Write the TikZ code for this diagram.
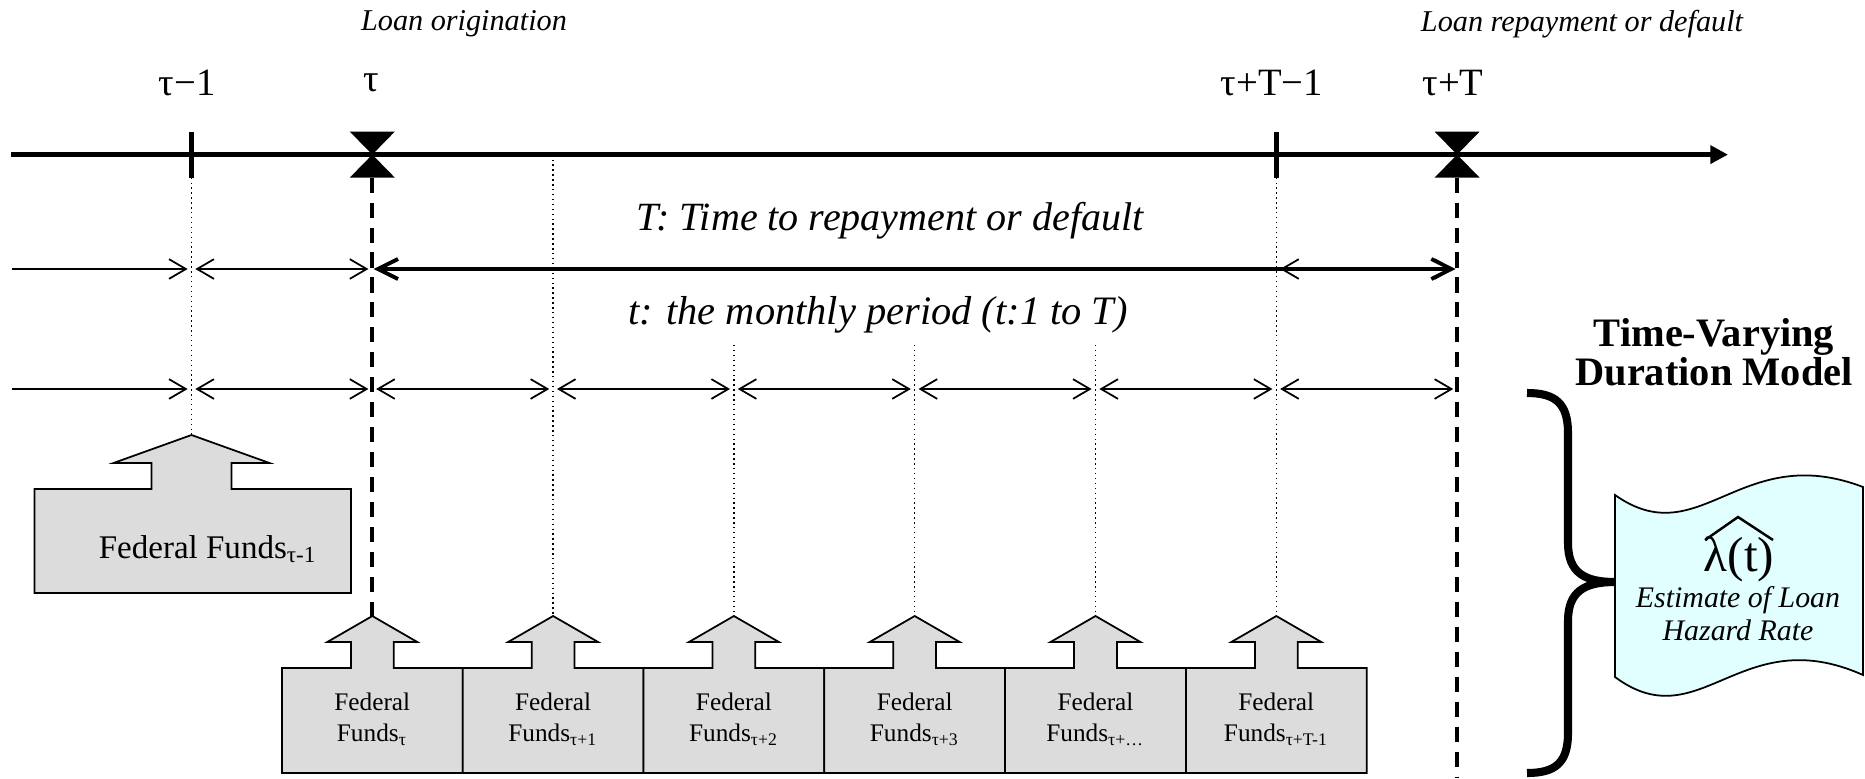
\documentclass[tikz,border=0pt]{standalone}
\usepackage{fontspec}
\setmainfont{Liberation Serif}
\usetikzlibrary{arrows.meta}
\definecolor{fundgray}{RGB}{220,220,220}
\definecolor{tapecyan}{RGB}{226,255,255}

\begin{document}
\begin{tikzpicture}[>={Straight Barb[length=4.8pt,width=5.6pt]},
  span/.style={line width=0.5pt,shorten <=1.1pt,shorten >=1.1pt},
  guide/.style={densely dotted,line width=0.4pt},
  marker/.style={dash pattern=on 4.3pt off 2.8pt,line width=1.1pt},
  fund/.style={draw,line width=0.5pt,fill=fundgray},
  ticklbl/.style={font=\fontsize{11}{13}\selectfont},
  note/.style={font=\itshape\fontsize{8.6}{10}\selectfont}]
  \useasboundingbox (0,0) rectangle (18.65,7.78);
  % time points on the axis and on the two rows of spans
  \foreach \i in {0,...,7}{
    \coordinate (t\i) at (1.915+1.808*\i,6.234);
    \coordinate (a\i) at (1.915+1.808*\i,5.09);
    \coordinate (b\i) at (1.915+1.808*\i,3.89);
  }
  \coordinate (axis-start) at (0.11,6.234);
  \coordinate (axis-end) at (17.28,6.234);
  \coordinate (a-start) at (0.12,5.09);
  \coordinate (b-start) at (0.12,3.89);
  \coordinate (floor) at (0,0);
  % timeline
  \draw[line width=1.5pt,-{Triangle[length=5pt,width=5pt]}] (axis-start)--(axis-end);
  \foreach \i in {0,6}
    \draw[line width=1.6pt] ([yshift=0.23cm]t\i)--([yshift=-0.23cm]t\i);
  \foreach \i in {1,7}
    \fill[shift={(t\i)}] (-0.225,0.23)--(0.225,0.23)--(-0.225,-0.23)--(0.225,-0.23)--cycle;
  \node[ticklbl] (lab0) at (1.87,6.95){τ−1};
  \node[ticklbl] (lab1) at (3.71,6.95){τ};
  \node[ticklbl] (lab6) at (12.72,6.95){τ+T−1};
  \node[ticklbl] (lab7) at (14.53,6.95){τ+T};
  \node[note] (origination) at (4.64,7.54){Loan origination};
  \node[note] (repayment) at (15.82,7.54){Loan repayment or default};
  % federal funds boxes
  \draw[fund] (0.345,1.85)--(3.51,1.85)--(3.51,2.89)--(2.315,2.89)--(2.315,3.15)--(2.695,3.15)
    --(1.915,3.43) coordinate (f0)--(1.135,3.15)--(1.515,3.15)--(1.515,2.89)--(0.345,2.89)--cycle;
  \node[font=\fontsize{9.4}{11}\selectfont] (fund0) at (2.08,2.29){Federal Funds\textsubscript{τ-1}};
  \foreach \i/\s in {1/{τ},2/{τ+1},3/{τ+2},4/{τ+3},5/{τ+…},6/{τ+T-1}}{
    \begin{scope}[shift={(t\i |- floor)}]
      \draw[fund] (-0.904,0.05)--(0.904,0.05)--(0.904,1.10)--(0.214,1.10)--(0.214,1.36)--(0.45,1.36)
        --(0,1.62) coordinate (f\i)--(-0.45,1.36)--(-0.214,1.36)--(-0.214,1.10)--(-0.904,1.10)--cycle;
      \node[font=\fontsize{7.2}{8.8}\selectfont,align=center] (fund\i) at (0,0.585){Federal\\Funds\textsubscript{\s}};
    \end{scope}
  }
  % guides from the axis down to the boxes
  \draw[guide] ([yshift=-0.23cm]t0)--(f0);
  \draw[guide] (t2)--(f2);
  \foreach \i in {3,4,5}
    \draw[guide] (f\i |- 0,4.33)--(f\i);
  \draw[guide] ([yshift=-0.23cm]t6)--(f6);
  % origination and repayment
  \draw[marker] ([yshift=-0.23cm]t1)--(f1);
  \draw[marker] ([yshift=-0.23cm]t7)--(t7 |- floor);
  % T: time to repayment or default
  \node[font=\itshape\fontsize{11.4}{13}\selectfont] (Tlbl) at (8.90,5.57){T: Time to repayment or default};
  \draw[span,->,shorten <=0pt] (a-start)--(a0);
  \draw[span,<->] (a0)--(a1);
  \draw[>={Straight Barb[length=5.7pt,width=5.7pt]},span,<->,line width=1.1pt,shorten <=0.4pt,shorten >=0.4pt] (a1)--(a7);
  \draw[span,<->] (a6)--(a7);
  % t: monthly periods
  \node[font=\itshape\fontsize{11.5}{13}\selectfont] (tlbl) at (8.78,4.63){t: the monthly period (t:1 to T)};
  \draw[span,->,shorten <=0pt] (b-start)--(b0);
  \foreach \i [count=\j from 1] in {0,...,6}
    \draw[span,<->] (b\i)--(b\j);
  % duration model
  \node[font=\bfseries\fontsize{11.5}{11}\selectfont,align=center] (model) at (17.14,4.26){Time-Varying\\Duration Model};
  \draw[line width=2.3pt] (15.27,3.85) .. controls (15.55,3.85) and (15.68,3.75) .. (15.68,3.45)--(15.68,2.35)
    .. controls (15.68,2.05) and (15.85,1.96) .. (16.15,1.96) coordinate (cusp)
    .. controls (15.85,1.96) and (15.68,1.87) .. (15.68,1.57)--(15.68,0.45)
    .. controls (15.68,0.15) and (15.55,0.05) .. (15.27,0.05);
  \draw[line width=0.5pt,fill=tapecyan] (16.15,2.83) .. controls (17.00,2.23) and (17.40,3.38) .. (18.63,2.91)
    --(18.63,1.03) .. controls (17.40,1.58) and (17.00,0.38) .. (16.15,1.01)--cycle;
  \node[font=\fontsize{14}{16}\selectfont,inner sep=0pt] (hazard) at (17.39,2.19){λ(t)};
  \draw[line width=0.7pt] ([shift={(-0.34,0.19)}]hazard.center)--([shift={(-0.01,0.42)}]hazard.center)
    --([shift={(0.34,0.19)}]hazard.center);
  \node[font=\itshape\fontsize{8.5}{9.4}\selectfont,align=center,inner sep=0pt] (estimate) at (17.38,1.64){Estimate of Loan\\Hazard Rate};
\end{tikzpicture}
\end{document}
